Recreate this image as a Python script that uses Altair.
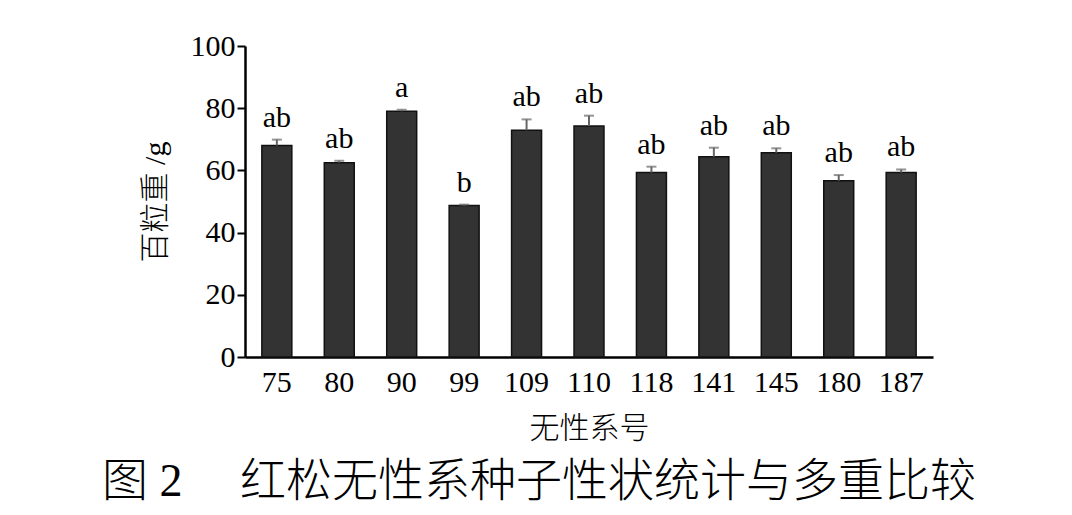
import altair as alt
import pandas as pd

clones = ["75", "80", "90", "99", "109", "110", "118", "141", "145", "180", "187"]
means = [68.0, 62.5, 79.0, 48.7, 72.9, 74.3, 59.3, 64.4, 65.7, 56.7, 59.3]
errs = [1.9, 0.6, 0.5, 0.3, 3.5, 3.3, 1.9, 2.9, 1.4, 1.8, 1.0]
letters = ["ab", "ab", "a", "b", "ab", "ab", "ab", "ab", "ab", "ab", "ab"]
y_ticks = [0, 20, 40, 60, 80, 100]
caption = "图 2　 红松无性系种子性状统计与多重比较"

df = pd.DataFrame({"clone": clones, "mean": means, "err": errs, "letter": letters})
df["top"] = df["mean"] + df["err"]

NUM_FONT = "Liberation Serif"
FONT = "'Liberation Serif', 'Noto Sans CJK SC'"

x = alt.X(
    "clone:N",
    sort=clones,
    title="无性系号",
    scale=alt.Scale(paddingInner=0.52, paddingOuter=0.27),
    axis=alt.Axis(
        labelAngle=0, ticks=False, labelPadding=10, titlePadding=16,
        domainWidth=2.5, domainColor="black",
        labelFontSize=30, titleFontSize=30, labelFont=NUM_FONT, titleFont=FONT,
        labelColor="black", titleColor="black", titleFontWeight=300,
    ),
)
y = alt.Y(
    "mean:Q",
    title="百粒重 /g",
    scale=alt.Scale(domain=[0, 100], nice=False),
    axis=alt.Axis(
        values=y_ticks, grid=False, tickSize=8, tickWidth=2, tickColor="black",
        domainWidth=2.5, domainColor="black", labelPadding=2, titlePadding=20,
        labelFontSize=30, titleFontSize=30, labelFont=NUM_FONT, titleFont=FONT,
        labelColor="black", titleColor="black", titleFontWeight=300,
    ),
)

base = alt.Chart(df)
bars = base.mark_bar(color="#333333", stroke="#111111", strokeWidth=1.5).encode(x=x, y=y)
rules = base.mark_rule(color="#666666", strokeWidth=2).encode(x=x, y="mean:Q", y2="top:Q")
caps = base.mark_tick(color="#666666", thickness=2, size=10).encode(x=x, y="top:Q")
text = base.mark_text(baseline="bottom", dy=-7, fontSize=30, font=NUM_FONT, color="black").encode(
    x=x, y="top:Q", text="letter:N"
)

chart = alt.layer(bars, rules, caps, text).properties(
    width=688,
    height=311,
    title=alt.TitleParams(
        text=caption, orient="bottom", fontSize=46, font=FONT, fontWeight=300,
        color="black", offset=17, dx=-50,
    ),
    padding={"left": 237, "top": 38, "right": 120, "bottom": 150},
    autosize="none",
    background="white",
).configure_view(stroke=None)

chart.save("out.html", embed_options={"renderer": "svg", "actions": False})
